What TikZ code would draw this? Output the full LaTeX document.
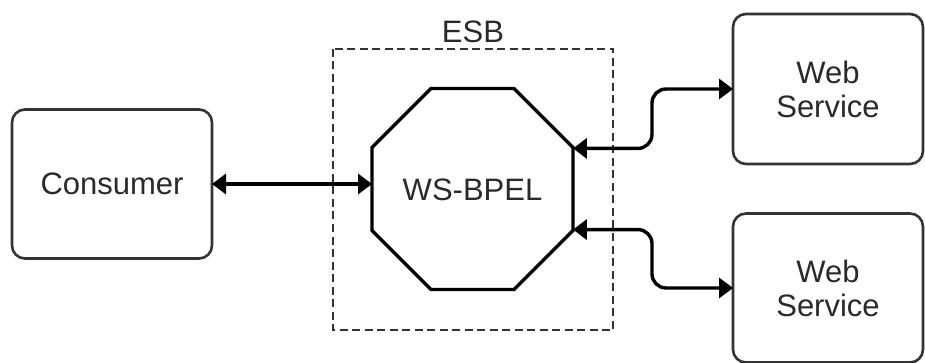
\documentclass[tikz,border=0pt]{standalone}
\usepackage{fontspec}
\setmainfont{Liberation Sans}
\usetikzlibrary{arrows.meta,shapes.geometric}
\definecolor{edgegray}{HTML}{333333}
\definecolor{txtgray}{HTML}{2A2A2A}
\begin{document}
\begin{tikzpicture}[x=1pt,y=-1pt,
  every node/.style={font=\fontsize{31}{34}\selectfont, text=txtgray},
  roundbox/.style={draw=edgegray, line width=2.6pt, rounded corners=13pt,
    fill=white, inner sep=0pt, outer sep=0pt, align=center},
  busbox/.style={draw=edgegray, line width=2.6pt, dash pattern=on 8pt off 4.5pt},
  conn/.style={line width=3.4pt, black, rounded corners=14pt,
    {Triangle[length=14pt,width=20pt]}-{Triangle[length=14pt,width=20pt]}}
]
\useasboundingbox (0,0) rectangle (925,363);

% ESB boundary and its label
\draw[busbox] (333,49) rectangle (613,330);
\node[anchor=base] (esblabel) at (473,43) {ESB};

% process engine
\node[draw=black, line width=3.4pt, regular polygon, regular polygon sides=8,
      minimum size=217.5pt, inner sep=0pt, outer sep=0pt]
      (oct) at (472.5,189) {};
\node (bpel) at (472.5,190) {WS-BPEL};

% client and services
\node[roundbox, minimum width=200pt, minimum height=149pt] (consumer) at (112,184) {Consumer};
\node[roundbox, minimum width=190pt, minimum height=150pt] (ws1) at (828,89) {Web\\Service};
\node[roundbox, minimum width=190pt, minimum height=149pt] (ws2) at (828,288) {Web\\Service};

% routing column for the service links
\coordinate (route) at (652,0);

% connectors
\draw[conn] (consumer.east) -- (consumer.east -| oct.west);
\draw[conn] (oct.22.5) -- (oct.22.5 -| route) -- (route |- ws1.west) -- (ws1.west);
\draw[conn] (oct.-22.5) -- (oct.-22.5 -| route) -- (route |- ws2.west) -- (ws2.west);
\end{tikzpicture}
\end{document}
